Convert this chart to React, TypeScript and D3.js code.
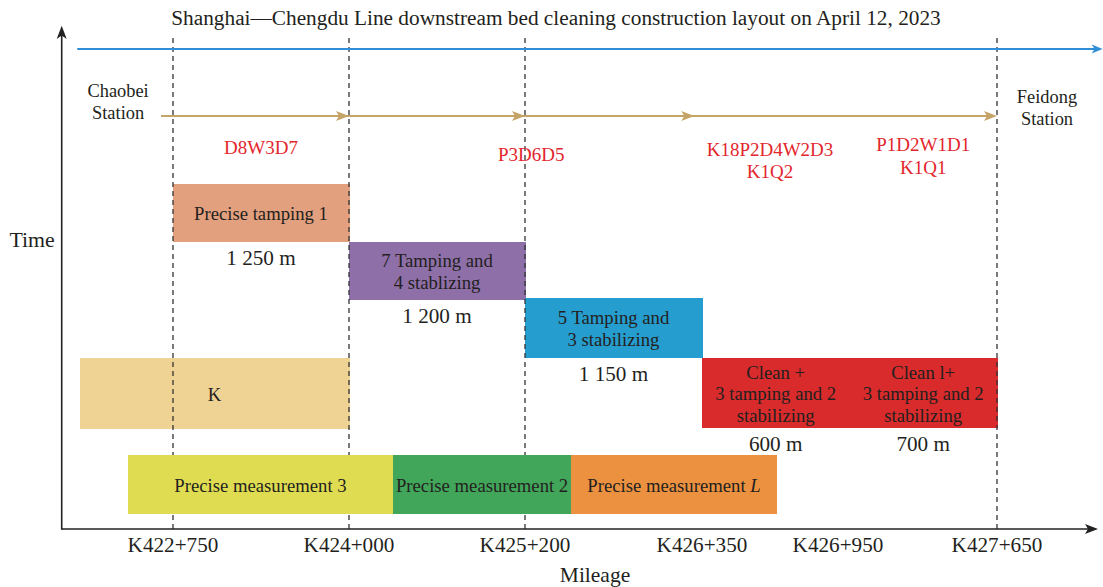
import React from "react";
import * as d3 from "d3";

// ---------- DATA ----------
const titleText = "Shanghai\u2014Chengdu Line downstream bed cleaning construction layout on April 12, 2023";

// mileage ticks (metres) and their labels
const mileTicks = [422750, 424000, 425200, 426350, 426950, 427650];
const mileTickLabels = ["K422+750", "K424+000", "K425+200", "K426+350", "K426+950", "K427+650"];
// dashed section boundaries
const sectionMarks = [422750, 424000, 425200, 427650];

// work blocks: mileage extent and time extent (arbitrary time units)
const blockLabels = [
  ["Precise tamping 1"],
  ["7 Tamping and", "4 stablizing"],
  ["5 Tamping and", "3 stabilizing"],
  ["Clean +", "3 tamping and 2", "stabilizing"],
  ["Clean l+", "3 tamping and 2", "stabilizing"],
  ["K"],
  ["Precise measurement 3"],
  ["Precise measurement 2"],
  ["Precise measurement L"],
];
const blockFrom = [422750, 424000, 425200, 426350, 427000, 422090, 422430, 424300, 425500];
const blockTo = [424000, 425200, 426350, 427000, 427650, 424000, 424300, 425500, 426680];
const blockTimeStart = [57.4, 45.8, 34.2, 20.2, 20.2, 20.0, 3.0, 3.0, 3.0];
const blockTimeEnd = [69.0, 57.4, 46.2, 34.2, 34.2, 34.2, 14.8, 14.8, 14.8];
// blocks drawn above the dashed section lines
const blockOnTop = [false, false, false, false, false, false, true, true, true];
// length labels below blocks (index into blocks)
const lengthBlock = [0, 1, 2, 3, 4];
const lengthText = ["1 250 m", "1 200 m", "1 150 m", "600 m", "700 m"];

// tracks
const blueTrack = { from: 422070, to: 428115, t: 96 };
const goldTrack = { from: 422665, to: 427650, t: 82.6 };
const goldArrowsAt = [424000, 425200, 426300, 427650];

// red equipment codes
const codeLines = [["D8W3D7"], ["P3D6D5"], ["K18P2D4W2D3", "K1Q2"], ["P1D2W1D1", "K1Q1"]];
const codeMile = [423375, 425240, 426650, 427325];
const codeTime = [76.5, 75.1, 76.1, 77.0];

// stations
const stationLines = [["Chaobei", "Station"], ["Feidong", "Station"]];
const stationMile = [422360, 427870];
const stationTime = [87.6, 86.4];

// ---------- STYLE ----------
const blockColors = ["#E3A07E", "#8E6FA8", "#269DCF", "#D92B2B", "#D92B2B", "#EFD395", "#E0DC52", "#41A55A", "#EC913F"];
const FONT = "'Liberation Serif', 'Times New Roman', serif";
const INK = "#231F20";
const RED = "#E3262D";
const GOLD = "#C5A467";
const BLUE = "#2F8FD6";

export default function App() {
  const W = 1103, H = 587;
  const x = d3.scaleLinear().domain(mileTicks).range([173, 349, 525, 702, 838, 997]);
  const y = d3.scaleLinear().domain([0, 100]).range([529, 29]);
  const axisX = 61.7, axisY = y(0);
  const lh = 21.5;

  const arrow = (tx: number, ty: number, len: number, hw: number) =>
    `M${tx},${ty} L${tx - len},${ty - hw} L${tx - len + 3},${ty} L${tx - len},${ty + hw} Z`;

  const renderBlock = (lines: string[], i: number) => {
    const x0 = x(blockFrom[i]), x1 = x(blockTo[i]);
    const y0 = y(blockTimeEnd[i]), y1 = y(blockTimeStart[i]);
    const cx = (x0 + x1) / 2, cy = (y0 + y1) / 2;
    return (
      <g key={"b" + i}>
        <rect x={x0} y={y0} width={x1 - x0 + 0.6} height={y1 - y0} fill={blockColors[i]} shapeRendering="crispEdges" />
        <text fontSize={18.7} fill={INK} textAnchor="middle" dominantBaseline="central">
          {lines.map((l, j) => {
            const yy = cy + (j - (lines.length - 1) / 2) * lh;
            if (l.endsWith(" L")) {
              return (
                <tspan key={j} x={cx} y={yy}>
                  {l.slice(0, -1)}<tspan fontStyle="italic">L</tspan>
                </tspan>
              );
            }
            return <tspan key={j} x={cx} y={yy}>{l}</tspan>;
          })}
        </text>
      </g>
    );
  };

  return (
    <svg width={W} height={H} style={{ position: "absolute", left: 0, top: 0, background: "#fff" }} fontFamily={FONT}>
      <rect width={W} height={H} fill="#fff" />
      {/* title */}
      <text x={556} y={25} textAnchor="middle" fontSize={21.3} fill={INK}>{titleText}</text>

      {/* blocks under dashed lines */}
      {blockLabels.map((lines, i) => (blockOnTop[i] ? null : renderBlock(lines, i)))}

      {/* length labels */}
      {lengthBlock.map((bi, k) => (
        <text key={"len" + k} x={(x(blockFrom[bi]) + x(blockTo[bi])) / 2} y={y(blockTimeStart[bi]) + 23}
          textAnchor="middle" fontSize={21.2} fill={INK}>{lengthText[k]}</text>
      ))}

      {/* dashed section lines */}
      {sectionMarks.map((m, i) => (
        <line key={"d" + i} x1={x(m)} x2={x(m)} y1={38} y2={axisY} stroke="#333" strokeWidth={1.3} strokeDasharray="5,4" />
      ))}

      {/* blocks above dashed lines */}
      {blockLabels.map((lines, i) => (blockOnTop[i] ? renderBlock(lines, i) : null))}

      {/* blue track */}
      <line x1={x(blueTrack.from)} x2={x(blueTrack.to) - 6} y1={y(blueTrack.t)} y2={y(blueTrack.t)} stroke={BLUE} strokeWidth={2} />
      <path d={arrow(x(blueTrack.to), y(blueTrack.t), 11, 4.5)} fill={BLUE} />

      {/* gold track */}
      <line x1={x(goldTrack.from)} x2={x(goldTrack.to) - 4} y1={y(goldTrack.t)} y2={y(goldTrack.t)} stroke={GOLD} strokeWidth={2} />
      {goldArrowsAt.map((m, i) => (
        <path key={"ga" + i} d={arrow(x(m), y(goldTrack.t), 13, 5)} fill={GOLD} />
      ))}

      {/* stations */}
      {stationLines.map((lines, i) => (
        <text key={"st" + i} fontSize={18.4} fill={INK} textAnchor="middle" dominantBaseline="central">
          {lines.map((l, j) => (
            <tspan key={j} x={x(stationMile[i])} y={y(stationTime[i]) + j * lh}>{l}</tspan>
          ))}
        </text>
      ))}

      {/* red codes */}
      {codeLines.map((lines, i) => (
        <text key={"c" + i} fontSize={19} fill={RED} textAnchor="middle" dominantBaseline="central">
          {lines.map((l, j) => (
            <tspan key={j} x={x(codeMile[i])} y={y(codeTime[i]) + j * 22.7}>{l}</tspan>
          ))}
        </text>
      ))}

      {/* axes */}
      <line x1={axisX} x2={axisX} y1={axisY + 0.8} y2={32} stroke="#222" strokeWidth={1.6} />
      <path d={`M${axisX},${25.7} L${axisX - 5},${39} L${axisX},${35.5} L${axisX + 5},${39} Z`} fill="#222" />
      <line x1={axisX} x2={1091} y1={axisY} y2={axisY} stroke="#222" strokeWidth={1.6} />
      <path d={arrow(1098, axisY, 13, 5)} fill="#222" />

      {mileTicks.map((m, i) => (
        <text key={"t" + i} x={x(m)} y={552} textAnchor="middle" fontSize={21.2} fill={INK}>{mileTickLabels[i]}</text>
      ))}

      <text x={32} y={247} textAnchor="middle" fontSize={21.8} fill={INK}>Time</text>
      <text x={595} y={581.5} textAnchor="middle" fontSize={21.5} fill={INK}>Mileage</text>
    </svg>
  );
}
